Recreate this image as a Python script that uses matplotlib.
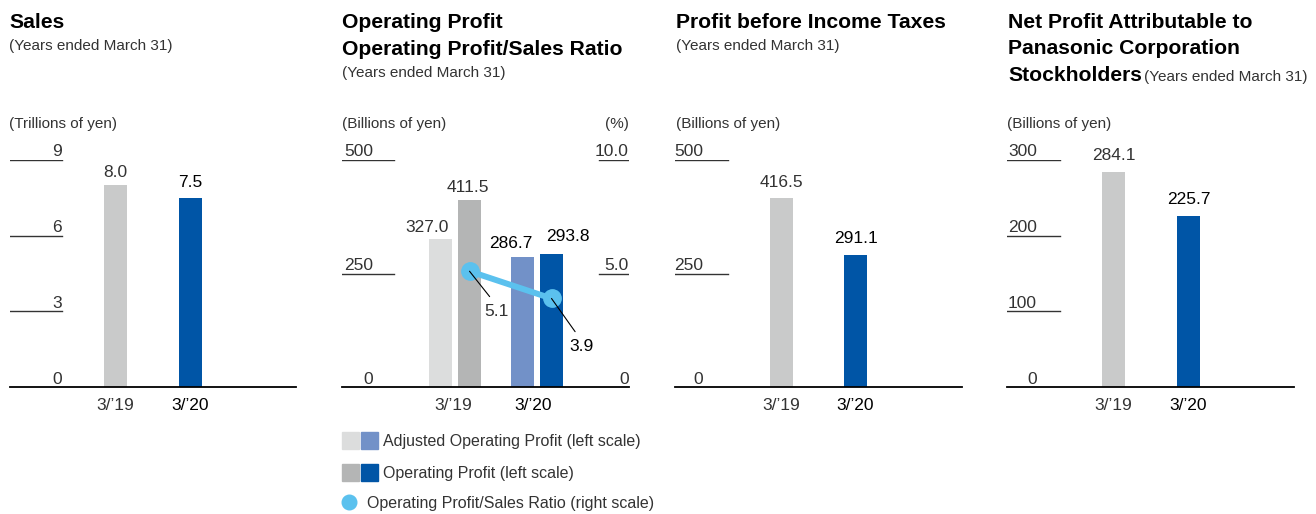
import matplotlib.pyplot as plt
from matplotlib.patches import Rectangle

years = ["3/\u201919", "3/\u201920"]
sales = [8.0, 7.5]
adj_op_profit = [327.0, 286.7]
op_profit = [411.5, 293.8]
op_ratio = [5.1, 3.9]
pbt = [416.5, 291.1]
net_profit = [284.1, 225.7]

W, H = 1316, 514
GRAY = "#c9caca"
BLUE = "#0055a6"
LGRAY = "#dcdddd"
MGRAY = "#b4b5b5"
LBLUE = "#7291c8"
CYAN = "#5bc1ee"
TXT = "#333333"
PX = 0.72  # points per pixel at dpi 100

plt.rcParams["font.family"] = ["Liberation Sans", "DejaVu Sans"]

fig = plt.figure(figsize=(W / 100, H / 100), dpi=100)


def fx(x):
    return x / W


def fy(y):
    return 1 - y / H


def make_axes(x0, x1, xlim, ymax):
    ax = fig.add_axes([fx(x0), fy(387), (x1 - x0) / W, 227 / H])
    ax.set_xlim(xlim)
    ax.set_ylim(0, ymax)
    ax.axis("off")
    ax.axhline(0, color="black", lw=1.3, zorder=5, clip_on=False)
    return ax


def left_ticks(ax, ticks, labels, line_end, label_x):
    for t, lab in zip(ticks, labels):
        if t != 0:
            ax.axhline(t, xmin=0, xmax=line_end, color="#333333", lw=1.0)
        ax.annotate(lab, xy=(label_x, t), xycoords=("axes fraction", "data"),
                    xytext=(0, 3.5 * PX), textcoords="offset points",
                    ha="right", va="baseline", fontsize=12.5, color=TXT)


def value_labels(ax, xs, vals, fmt, colors, offsets):
    for x, v, c, (dx, dy) in zip(xs, vals, colors, offsets):
        ax.annotate(fmt.format(v), xy=(x, v), xytext=(dx * PX, dy * PX),
                    textcoords="offset points", ha="center", va="baseline",
                    fontsize=12.5, color=c)


def cat_labels(ax, xs):
    for x, lab, c in zip(xs, years, [TXT, "black"]):
        ax.annotate(lab, xy=(x, 0), xytext=(0, -23 * PX), textcoords="offset points",
                    ha="center", va="baseline", fontsize=12.5, color=c)


def title(x, y, s, size=15.2):
    fig.text(fx(x), fy(y), s, fontsize=size, fontweight="bold", color="black", va="baseline")


def sub(x, y, s, ha="left"):
    fig.text(fx(x), fy(y), s, fontsize=11, color=TXT, va="baseline", ha=ha)


pos = [0, 1]
vcol = [TXT, "black"]

# Sales
ax1 = make_axes(10, 296, (-1.407, 2.407), 9)
ax1.bar(pos, sales, width=0.307, color=[GRAY, BLUE])
left_ticks(ax1, [0, 3, 6, 9], ["0", "3", "6", "9"], 0.182, 0.182)
value_labels(ax1, pos, sales, "{:.1f}", vcol, [(0, 8), (0, 11)])
cat_labels(ax1, pos)
title(9, 28, "Sales")
sub(9, 50, "(Years ended March 31)")
sub(9, 128, "(Trillions of yen)")

# Operating profit
ax2 = make_axes(342, 629, (-1.378, 2.122), 500)
off = 0.177
xa = [p - off for p in pos]
xo = [p + off for p in pos]
ax2.bar(xa, adj_op_profit, width=0.274, color=[LGRAY, LBLUE])
ax2.bar(xo, op_profit, width=0.274, color=[MGRAY, BLUE])
left_ticks(ax2, [0, 250, 500], ["0", "250", "500"], 0.181, 0.108)
value_labels(ax2, xa, adj_op_profit, "{:.1f}", vcol, [(-13, 7), (-11.5, 9)])
value_labels(ax2, xo, op_profit, "{:.1f}", vcol, [(-1.5, 8), (16, 13)])
cat_labels(ax2, [-0.02, 0.95])
ax2r = ax2.twinx()
ax2r.set_ylim(0, 10)
ax2r.axis("off")
for t, lab in zip([0, 5, 10], ["0", "5.0", "10.0"]):
    if t != 0:
        ax2r.axhline(t, xmin=0.895, xmax=1.0, color="#333333", lw=1.0)
    ax2r.annotate(lab, xy=(1.0, t), xycoords=("axes fraction", "data"),
                  xytext=(0, 3.5 * PX), textcoords="offset points",
                  ha="right", va="baseline", fontsize=12.5, color=TXT)
ax2r.plot(xo, op_ratio, color=CYAN, lw=4.3, marker="o", ms=12.5, zorder=3)
for x, v, (dx, dy), c in zip(xo, op_ratio, [(27, -40), (30, -48)], vcol):
    ax2r.annotate("{:.1f}".format(v), xy=(x, v), xytext=(dx * PX, dy * PX),
                  textcoords="offset points", ha="center", va="center",
                  fontsize=12.5, color=c, zorder=6,
                  arrowprops=dict(arrowstyle="-", color="black", lw=0.8,
                                  shrinkA=4, shrinkB=0, relpos=(0.45, 1.0)))
title(342, 28, "Operating Profit")
title(342, 55, "Operating Profit/Sales Ratio")
sub(342, 77, "(Years ended March 31)")
sub(342, 128, "(Billions of yen)")
sub(629, 128, "(%)", ha="right")

# Legend
for (x, y, c) in [(342, 432, LGRAY), (361, 432, LBLUE), (342, 464, MGRAY), (361, 464, BLUE)]:
    fig.add_artist(Rectangle((fx(x), fy(y + 17)), 17 / W, 17 / H, color=c,
                             transform=fig.transFigure))
fig.add_artist(plt.Line2D([fx(349)], [fy(502)], marker="o", ms=10.5, color=CYAN,
                          transform=fig.transFigure))
fig.text(fx(383), fy(446), "Adjusted Operating Profit (left scale)", fontsize=11.5,
         color=TXT, va="baseline")
fig.text(fx(383), fy(478), "Operating Profit (left scale)", fontsize=11.5,
         color=TXT, va="baseline")
fig.text(fx(367), fy(508), "Operating Profit/Sales Ratio (right scale)", fontsize=11.5,
         color=TXT, va="baseline")

# Profit before income taxes
ax3 = make_axes(675, 962, (-1.439, 2.439), 500)
ax3.bar(pos, pbt, width=0.311, color=[GRAY, BLUE])
left_ticks(ax3, [0, 250, 500], ["0", "250", "500"], 0.185, 0.0976)
value_labels(ax3, pos, pbt, "{:.1f}", vcol, [(0, 11), (0, 12)])
cat_labels(ax3, pos)
title(676, 28, "Profit before Income Taxes")
sub(676, 50, "(Years ended March 31)")
sub(676, 128, "(Billions of yen)")

# Net profit
ax4 = make_axes(1007, 1294, (-1.42, 2.407), 300)
ax4.bar(pos, net_profit, width=0.307, color=[GRAY, BLUE])
left_ticks(ax4, [0, 100, 200, 300], ["0", "100", "200", "300"], 0.185, 0.1045)
value_labels(ax4, pos, net_profit, "{:.1f}", vcol, [(0, 12), (0, 12)])
cat_labels(ax4, pos)
title(1008, 28, "Net Profit Attributable to")
title(1008, 54, "Panasonic Corporation")
title(1008, 81, "Stockholders")
sub(1144, 81, "(Years ended March 31)")
sub(1007, 128, "(Billions of yen)")

fig.savefig("out.png", dpi=100)
plt.close(fig)
